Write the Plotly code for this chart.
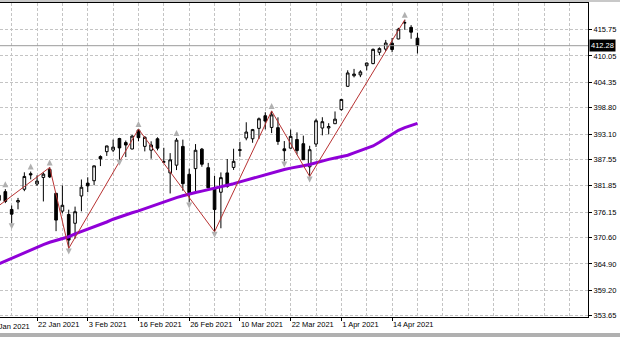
import plotly.graph_objects as go

# ---------------- data ----------------
earlier_dates = ["2020-12-21", "2020-12-22", "2020-12-23", "2020-12-24", "2020-12-28",
                 "2020-12-29", "2020-12-30", "2020-12-31", "2021-01-04", "2021-01-05",
                 "2021-01-06", "2021-01-07", "2021-01-08"]

dates = ["2021-01-11", "2021-01-12", "2021-01-13", "2021-01-14", "2021-01-15", "2021-01-19",
         "2021-01-20", "2021-01-21", "2021-01-22", "2021-01-25", "2021-01-26", "2021-01-27",
         "2021-01-28", "2021-01-29", "2021-02-01", "2021-02-02", "2021-02-03", "2021-02-04",
         "2021-02-05", "2021-02-08", "2021-02-09", "2021-02-10", "2021-02-11", "2021-02-12",
         "2021-02-16", "2021-02-17", "2021-02-18", "2021-02-19", "2021-02-22", "2021-02-23",
         "2021-02-24", "2021-02-25", "2021-02-26", "2021-03-01", "2021-03-02", "2021-03-03",
         "2021-03-04", "2021-03-05", "2021-03-08", "2021-03-09", "2021-03-10", "2021-03-11",
         "2021-03-12", "2021-03-15", "2021-03-16", "2021-03-17", "2021-03-18", "2021-03-19",
         "2021-03-22", "2021-03-23", "2021-03-24", "2021-03-25", "2021-03-26", "2021-03-29",
         "2021-03-30", "2021-03-31", "2021-04-01", "2021-04-05", "2021-04-06", "2021-04-07",
         "2021-04-08", "2021-04-09", "2021-04-12", "2021-04-13", "2021-04-14", "2021-04-15",
         "2021-04-16", "2021-04-19", "2021-04-20"]

opens = [377.85, 378.89, 378.69, 380.59, 376.72, 378.34, 381.11, 384.49, 382.25, 383.67,
         385.41, 380.22, 376.36, 375.63, 373.72, 379.65, 382.44, 382.96, 388.20, 389.27,
         389.61, 392.12, 391.24, 389.85, 393.96, 390.42, 389.59, 392.07, 387.06, 384.66,
         386.33, 390.41, 384.35, 385.59, 389.82, 385.79, 381.22, 380.46, 384.66, 385.85,
         389.69, 392.23, 392.07, 394.33, 397.07, 394.53, 394.48, 389.88, 390.03, 391.91,
         391.00, 385.98, 390.93, 394.40, 394.42, 395.34, 398.40, 403.46, 405.76, 405.94,
         407.93, 408.39, 410.85, 411.53, 412.83, 413.74, 417.25, 416.26, 413.91]
highs = [380.58, 379.86, 380.86, 381.13, 377.58, 379.23, 384.79, 384.95, 384.13, 384.77,
         385.85, 380.32, 381.93, 376.67, 377.34, 383.22, 383.70, 386.24, 388.47, 390.56,
         391.89, 392.28, 391.69, 392.90, 394.17, 392.66, 391.52, 392.38, 390.11, 388.95,
         392.23, 391.88, 385.58, 390.92, 390.07, 386.83, 384.00, 384.76, 387.68, 389.91,
         391.40, 395.65, 394.21, 396.69, 397.83, 398.12, 396.72, 391.57, 394.07, 393.46,
         392.75, 390.55, 396.41, 396.75, 395.45, 398.00, 400.67, 406.94, 407.24, 406.96,
         408.58, 411.67, 411.93, 413.53, 413.96, 416.16, 417.91, 416.74, 415.09]
lows = [377.72, 376.36, 377.85, 378.10, 373.70, 376.75, 380.69, 383.25, 381.84, 378.46,
        383.54, 372.01, 375.89, 368.27, 370.38, 376.32, 380.48, 381.97, 386.14, 388.35,
        389.17, 387.50, 388.10, 389.77, 391.53, 389.33, 387.74, 389.55, 386.86, 380.20,
        385.27, 380.78, 378.23, 380.57, 386.00, 381.31, 371.88, 372.64, 381.42, 385.31,
        388.17, 391.74, 391.20, 392.03, 394.11, 393.30, 390.75, 387.15, 389.97, 388.66,
        387.47, 383.90, 390.29, 392.81, 393.02, 395.31, 398.18, 403.38, 405.40, 405.45,
        406.93, 408.26, 410.20, 411.12, 410.87, 413.69, 415.73, 413.79, 410.59]
closes = [378.69, 378.77, 379.79, 378.46, 375.70, 378.65, 383.89, 384.24, 382.88, 384.39,
          383.79, 374.41, 377.63, 370.07, 376.23, 381.55, 381.85, 386.19, 387.71, 390.51,
          390.25, 390.08, 390.71, 392.64, 392.30, 392.39, 390.72, 390.03, 387.03, 387.50,
          391.77, 382.33, 380.36, 389.58, 386.54, 381.42, 376.70, 383.63, 381.72, 387.17,
          389.58, 393.53, 394.06, 396.41, 395.91, 397.26, 391.48, 389.48, 392.59, 389.50,
          387.52, 389.70, 395.98, 395.78, 394.73, 396.33, 400.61, 406.36, 406.12, 406.59,
          408.52, 411.49, 411.64, 412.86, 411.45, 415.87, 417.26, 415.21, 412.28]

ma_values = [363.7, 364.3, 364.9, 365.6, 366.2, 366.8, 367.4, 368.0, 368.6, 369.1,
             369.6, 370.0, 370.4, 370.8, 371.4, 371.9, 372.4, 372.9, 373.4, 374.0,
             374.6, 375.1, 375.6, 376.0, 376.4, 376.9, 377.4, 377.9, 378.4, 378.8,
             379.3, 379.7, 380.1, 380.4, 380.7, 381.0, 381.4, 381.7, 382.0, 382.3,
             382.7, 383.1, 383.5, 383.9, 384.3, 384.7, 385.1, 385.4, 385.7, 385.9,
             386.2, 386.5, 386.9, 387.2, 387.6, 387.9, 388.2, 388.5, 389.0, 389.5,
             390.0, 390.5, 391.3, 392.2, 393.1, 393.9, 394.5, 395.0, 395.4]

zigzag_dates = ["2020-12-21", "2021-01-26", "2021-01-29", "2021-02-16", "2021-03-04",
                "2021-03-17", "2021-03-25", "2021-04-16"]
zigzag_prices = [362.03, 385.85, 368.27, 394.17, 371.88, 398.12, 383.90, 417.91]

fractal_up_dates = ["2021-01-14", "2021-01-21", "2021-01-26", "2021-02-16", "2021-02-24",
                    "2021-03-17", "2021-04-16"]
fractal_down_dates = ["2021-01-15", "2021-01-29", "2021-02-10", "2021-02-26", "2021-03-04",
                      "2021-03-19", "2021-03-25"]

price_ticks = [353.65, 359.20, 364.90, 370.60, 376.15, 381.85, 387.55, 393.10,
               398.80, 404.35, 410.05, 415.75]
price_tick_labels = ["353.65", "359.20", "364.90", "370.60", "376.15", "381.85", "387.55",
                     "393.10", "398.80", "404.35", "410.05", "415.75"]

date_label_dates = ["2021-01-11", "2021-01-22", "2021-02-03", "2021-02-16", "2021-02-26",
                    "2021-03-10", "2021-03-22", "2021-04-01", "2021-04-14"]
date_labels = ["11 Jan 2021", "22 Jan 2021", "3 Feb 2021", "16 Feb 2021", "26 Feb 2021",
               "10 Mar 2021", "22 Mar 2021", "1 Apr 2021", "14 Apr 2021"]

current_price = 412.28
current_price_label = "412.28"

# ---------------- layout constants ----------------
W, H = 620, 337
ML, MR, MT, MB = 0, 32, 3, 20
PLOT_H = H - MT - MB
X_RANGE = [2.16, 94.9]
Y_RANGE = [353.37, 421.55]
PX = (Y_RANGE[1] - Y_RANGE[0]) / PLOT_H  # price per pixel

all_dates = earlier_dates + dates
pos = {d: i - len(earlier_dates) for i, d in enumerate(all_dates)}
xi = [pos[d] for d in dates]

FONT = "Liberation Sans, Arial, sans-serif"
GRID = "#c4c4c4"
FS = 7.5

fig = go.Figure()

# moving average
fig.add_trace(go.Scatter(x=xi, y=ma_values, mode="lines",
                         line=dict(color="#9000d8", width=3), hoverinfo="skip"))

# zigzag
fig.add_trace(go.Scatter(x=[pos[d] for d in zigzag_dates], y=zigzag_prices, mode="lines",
                         line=dict(color="#b83232", width=1), hoverinfo="skip",
                         cliponaxis=True))

# candles
fig.add_trace(go.Candlestick(
    x=xi, open=opens, high=highs, low=lows, close=closes,
    increasing=dict(line=dict(color="black", width=1), fillcolor="white"),
    decreasing=dict(line=dict(color="black", width=1), fillcolor="black"),
    whiskerwidth=0, hoverinfo="skip"))

# fractals
up_x = [pos[d] for d in fractal_up_dates]
up_y = [highs[dates.index(d)] + 8 * PX for d in fractal_up_dates]
dn_x = [pos[d] for d in fractal_down_dates]
dn_y = [lows[dates.index(d)] - 6 * PX for d in fractal_down_dates]
fig.add_trace(go.Scatter(x=up_x, y=up_y, mode="markers",
                         marker=dict(symbol="arrow-up", size=6, color="#b0b0b0",
                                     line=dict(width=0)), hoverinfo="skip"))
fig.add_trace(go.Scatter(x=dn_x, y=dn_y, mode="markers",
                         marker=dict(symbol="arrow-down", size=6, color="#b0b0b0",
                                     line=dict(width=0)), hoverinfo="skip"))

# current price line
fig.add_shape(type="line", xref="paper", x0=0, x1=1, yref="y", y0=current_price,
              y1=current_price, line=dict(color="#9a9a9a", width=1))
fig.add_annotation(xref="paper", x=1, xanchor="left", xshift=1, yref="y", y=current_price,
                   yanchor="middle", text=current_price_label, showarrow=False,
                   bgcolor="black", borderpad=1,
                   font=dict(family=FONT, size=FS, color="white"))

# first (clipped) date label
tick_idx = [pos[d] for d in date_label_dates]
span = X_RANGE[1] - X_RANGE[0]
fig.add_annotation(xref="paper", x=(tick_idx[0] - X_RANGE[0]) / span, xanchor="left",
                   xshift=1, yref="paper", y=0, yanchor="top", yshift=-3,
                   text=date_labels[0], showarrow=False,
                   font=dict(family=FONT, size=FS, color="black"))

# frame bands
fig.add_shape(type="rect", xref="paper", yref="paper", x0=-0.01, x1=1.1,
              y0=1 + 1 / PLOT_H, y1=1 + 4 / PLOT_H, fillcolor="#c8c8c8", line=dict(width=0))
fig.add_shape(type="rect", xref="paper", yref="paper", x0=-0.01, x1=1.1,
              y0=-20 / PLOT_H, y1=-16 / PLOT_H, fillcolor="#b0b0b0", line=dict(width=0))

fig.update_layout(
    width=W, height=H,
    margin=dict(l=ML, r=MR, t=MT, b=MB, autoexpand=False),
    paper_bgcolor="white", plot_bgcolor="white",
    showlegend=False,
    boxgap=0.4,
    xaxis=dict(range=X_RANGE, rangeslider=dict(visible=False),
               tickmode="array", tickvals=tick_idx[1:], ticktext=date_labels[1:],
               ticklabelposition="outside right", tickangle=0,
               ticks="outside", ticklen=3, tickcolor="black",
               tickfont=dict(family=FONT, size=FS, color="black"),
               showline=True, linecolor="black", linewidth=1, mirror=True,
               showgrid=True, gridcolor=GRID, griddash="3px,2px", gridwidth=1,
               minor=dict(tickmode="linear", tick0=0, dtick=4, showgrid=True,
                          gridcolor=GRID, griddash="3px,2px", gridwidth=1, ticklen=0),
               zeroline=False, fixedrange=True),
    yaxis=dict(range=Y_RANGE, side="right",
               tickmode="array", tickvals=price_ticks, ticktext=price_tick_labels,
               ticks="outside", ticklen=3, tickcolor="black",
               tickfont=dict(family=FONT, size=FS, color="black"),
               showline=True, linecolor="black", linewidth=1,
               showgrid=True, gridcolor=GRID, griddash="3px,2px", gridwidth=1,
               zeroline=False, fixedrange=True),
)

fig.write_html("out.html", config={"displayModeBar": False},
               post_script="document.body.style.margin='0';"
                           "document.body.style.overflow='hidden';")
